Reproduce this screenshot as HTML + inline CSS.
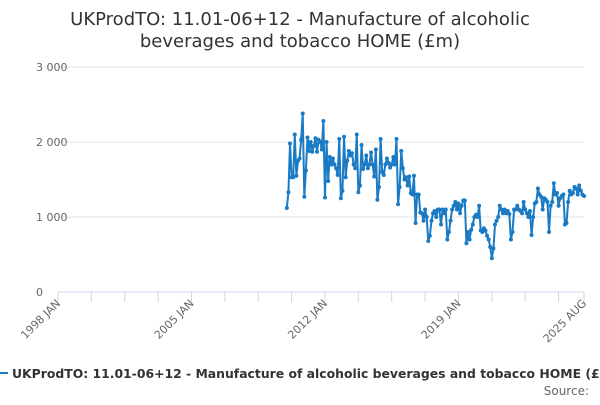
<!DOCTYPE html>
<html><head><meta charset="utf-8"><style>
body{margin:0;width:600px;height:400px;overflow:hidden;background:#fff;font-family:"Liberation Sans","DejaVu Sans",sans-serif}
svg text{font-family:"DejaVu Sans","Liberation Sans",sans-serif}
</style></head><body>
<svg id="c" width="600" height="400">
<text x="300" y="25" text-anchor="middle" font-size="18" fill="#333">UKProdTO: 11.01-06+12 - Manufacture of alcoholic</text>
<text x="300" y="47" text-anchor="middle" font-size="18" fill="#333">beverages and tobacco HOME (£m)</text>
<g id="grid"></g><g id="xaxis"></g><g id="series"></g>
<line x1="0" y1="373" x2="8" y2="373" stroke="#1a7ac4" stroke-width="2"/>
<text x="12" y="378" font-size="12.4" font-weight="bold" fill="#333">UKProdTO: 11.01-06+12 - Manufacture of alcoholic beverages and tobacco HOME (£m)</text>
<text x="589" y="395" text-anchor="end" font-size="12" fill="#666">Source:</text>
</svg>
<script>
const yTicks=[0,1000,2000,3000];
const yTickLabels=["0","1 000","2 000","3 000"];
const xTickLabels=["1998 JAN","2005 JAN","2012 JAN","2019 JAN","2025 AUG"];
const xTickYears=[1998,2005,2012,2019,2025.583];
const startYear=2010;
const values=[
1120,1330,1980,1530,1530,2100,1550,1750,1780,2030,2380,1270,
1620,2060,1880,2000,1870,1950,2050,1870,2030,2000,1900,2280,
1260,2000,1480,1800,1700,1780,1700,1650,1560,2040,1250,1350,
2070,1530,1750,1880,1820,1850,1700,1650,2100,1330,1420,1960,
1640,1700,1820,1650,1700,1860,1700,1540,1900,1230,1400,2040,
1600,1560,1700,1780,1720,1660,1700,1800,1700,2040,1170,1400,
1880,1650,1500,1530,1420,1540,1320,1300,1550,920,1300,1300,
1060,1050,950,1100,1000,680,750,950,1050,1080,1000,1100,
1100,900,1100,1050,1100,700,800,950,1100,1150,1200,1100,
1180,1050,1150,1220,1220,650,800,700,830,900,1000,1030,
1000,1150,820,800,850,820,750,700,600,450,580,900,
950,1000,1150,1100,1050,1100,1050,1080,1040,700,800,1100,
1100,1150,1100,1080,1050,1200,1100,1050,1000,1080,760,1000,
1180,1200,1380,1300,1270,1100,1250,1230,1200,800,1150,1200,
1450,1300,1320,1150,1250,1280,1300,900,920,1200,1350,1300,
1320,1400,1380,1300,1420,1350,1300,1280];
const NS="http://www.w3.org/2000/svg";
const X0=58,X1=584,Y0=292;
function xs(yr){return X0+(yr-1998)/(2025.583-1998)*(X1-X0);}
function ys(v){return Y0-v*0.075;}
function mk(t,a,p){const e=document.createElementNS(NS,t);for(const k in a)e.setAttribute(k,a[k]);p.appendChild(e);return e;}
const grid=document.getElementById('grid');
yTicks.forEach((v,i)=>{
 if(v>0){const l=mk('line',{x1:X0,x2:X1,y1:ys(v),y2:ys(v),stroke:'#e3e3e3'},grid);
 
 }
 const t=mk('text',{x:36,y:ys(v)+4,'text-anchor':'start','font-size':11,fill:'#666'},grid);
 t.textContent=yTickLabels[i];
 
 
});
const xa=document.getElementById('xaxis');
const al=mk('line',{x1:X0,x2:X1,y1:Y0,y2:Y0,stroke:'#ccd6eb'},xa);


for(let m=0;m<=331;m+=21){const x=xs(1998+m/12);
 const tk=mk('line',{x1:x,x2:x,y1:Y0,y2:Y0+10,stroke:'#ccd6eb'},xa);
 
 }
const tkE=mk('line',{x1:X1,x2:X1,y1:Y0,y2:Y0+10,stroke:'#ccd6eb'},xa);


xTickLabels.forEach((s,i)=>{const x=xs(xTickYears[i]);
 const t=mk('text',{x:x+3,y:Y0+12,'text-anchor':'end','font-size':11,fill:'#666',transform:`rotate(-45 ${x+3} ${Y0+12})`},xa);
 t.textContent=s;
 
 });
const sg=document.getElementById('series');
const pts=values.map((v,i)=>[xs(startYear+i/12),ys(v)]);
const pl=mk('polyline',{points:pts.map(p=>p.join(',')).join(' '),fill:'none',stroke:'#1a7ac4','stroke-width':2,'stroke-linejoin':'round'},sg);


pts.forEach(p=>{const c=mk('circle',{cx:p[0],cy:p[1],r:2,fill:'#1a7ac4'},sg);
 
 });
</script>
</body></html>
